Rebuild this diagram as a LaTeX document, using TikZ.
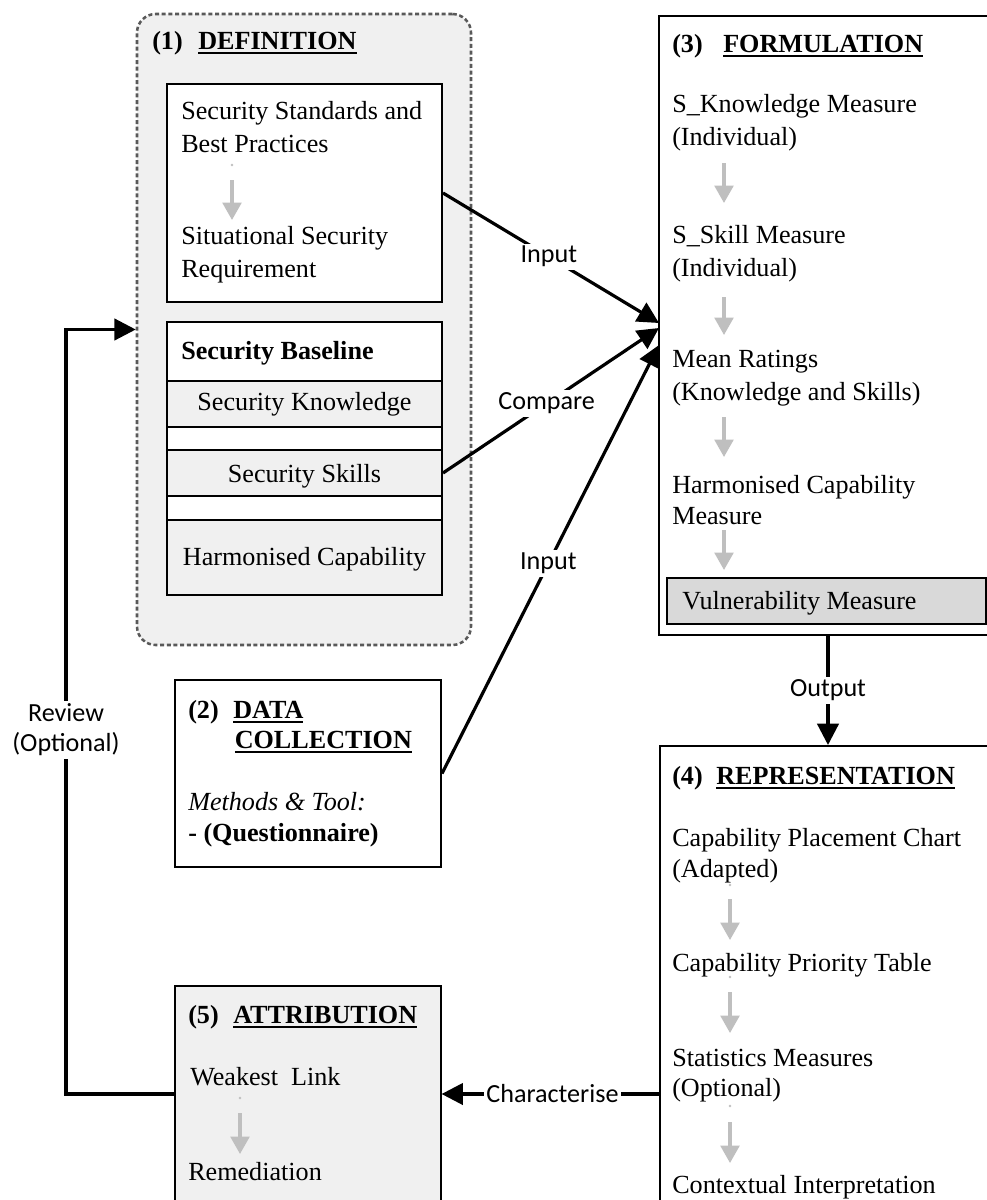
\documentclass[tikz,border=0pt]{standalone}
\usepackage{fontspec}
\setmainfont{Liberation Serif}
\newfontfamily\lab{Carlito}
\usetikzlibrary{arrows.meta,fit}
\definecolor{lgray}{HTML}{F0F0F0}
\definecolor{vgray}{HTML}{D9D9D9}
\definecolor{dgray}{HTML}{595959}
\definecolor{agray}{HTML}{BFBFBF}
\newcommand{\myul}[1]{\setbox0\hbox{#1}\rlap{\vrule width\wd0 height -2.2pt depth 3.6pt}\box0}
\begin{document}
\begin{tikzpicture}[x=0.75pt,y=-0.75pt,
  font=\fontsize{19.6}{24}\selectfont,
  box/.style={draw=black, line width=1.5pt, inner sep=0pt},
  txt/.style={anchor=base west, inner sep=0pt},
  ctxt/.style={anchor=base, inner sep=0pt},
  lbl/.style={font=\lab\fontsize{19.6}{22.5}\selectfont, fill=white, inner sep=2pt, align=center},
  conn/.style={draw=black, line width=2.4pt, -{Triangle[length=16pt,width=16pt]}},
  garrow/.style={draw=agray, line width=2.4pt, -{Triangle[length=13pt,width=14pt]}},
  gdot/.style={fill=agray, draw=none}
]
\useasboundingbox (0,0) rectangle (987,1200);
\clip (0,0) rectangle (987,1200);

% (1) DEFINITION
\node[fit={(137,14)(471,645)}, inner sep=0pt, draw=dgray, fill=lgray, line width=1.9pt,
      dash pattern=on 3pt off 2pt, rounded corners=14pt] (D) {};
\node[txt] (n1) at (152,49) {\bfseries (1)};
\node[txt] (w1) at (198,49) {\bfseries\myul{DEFINITION}};

\node[box, fill=white, fit={(167,84)(442,302)}] (A) {};
\node[txt] (a1) at (181,119) {Security Standards and};
\node[txt] (a2) at (181,152) {Best Practices};
\node[txt] (a3) at (181,244) {Situational Security};
\node[txt] (a4) at (181,277) {Requirement};
\fill[gdot] (232,165) circle (1pt);
\draw[garrow] (232,180) -- (232,220);

\node[box, fill=white, fit={(167,322)(442,381)}] (bh) {};
\node[box, fill=lgray, fit={(167,381)(442,427)}] (bk) {};
\node[box, fill=white, fit={(167,427)(442,450)}] (bg1) {};
\node[box, fill=lgray, fit={(167,450)(442,496)}] (bs) {};
\node[box, fill=white, fit={(167,496)(442,520)}] (bg2) {};
\node[box, fill=lgray, fit={(167,520)(442,595)}] (bc) {};
\node[box, fit={(167,322)(442,595)}] (B) {};
\node[txt] (b1) at (181,359) {\bfseries Security Baseline};
\node[ctxt] (b2) at (304.5,410) {Security Knowledge};
\node[ctxt] (b3) at (304.5,482) {Security Skills};
\node[ctxt] (b4) at (304.5,565) {Harmonised Capability};

% (2) DATA COLLECTION
\node[box, fill=white, fit={(175,680)(441,867)}] (DC) {};
\node[txt] (n2) at (188,718) {\bfseries (2)};
\node[txt] (w2) at (233,718) {\bfseries\myul{DATA}};
\node[txt] (w2b) at (234.5,748) {\bfseries\myul{COLLECTION}};
\node[txt] (m1) at (188,810) {\itshape Methods \& Tool:};
\node[txt] (m2) at (188,841) {\bfseries - (Questionnaire)};

% (5) ATTRIBUTION
\node[draw=black, line width=0.9pt, inner sep=0pt, fill=lgray, fit={(175,986)(441,1202)}] (AT) {};
\node[txt] (n5) at (188,1023) {\bfseries (5)};
\node[txt] (w5) at (233,1023) {\bfseries\myul{ATTRIBUTION}};
\node[txt] (e1) at (190,1085) {Weakest\ \ Link};
\node[txt] (e2) at (188,1180) {Remediation};
\fill[gdot] (240,1098) circle (1pt);
\draw[garrow] (240,1113) -- (240,1154);

% (3) FORMULATION
\node[box, fill=white, fit={(659,16)(997,635)}] (F) {};
\node[txt] (n3) at (672,52) {\bfseries (3)};
\node[txt] (w3) at (723,52) {\bfseries\myul{FORMULATION}};
\node[txt] (f1) at (672,112) {S\_Knowledge Measure};
\node[txt] (f2) at (672,145) {(Individual)};
\draw[garrow] (724,163) -- (724,203);
\node[txt] (f3) at (672,243) {S\_Skill Measure};
\node[txt] (f4) at (672,276) {(Individual)};
\draw[garrow] (724,297) -- (724,335);
\node[txt] (f5) at (672,367) {Mean Ratings};
\node[txt] (f6) at (672,400) {(Knowledge and Skills)};
\draw[garrow] (724,417) -- (724,457);
\node[txt] (f7) at (672,493) {Harmonised Capability};
\node[txt] (f8) at (672,524) {Measure};
\draw[garrow] (724,530) -- (724,570);
\node[box, fill=vgray, fit={(667,578)(986,624)}] (V) {};
\node[txt] (f9) at (682,609) {Vulnerability Measure};

% (4) REPRESENTATION
\node[box, fill=white, fit={(660,746)(996,1442)}] (R) {};
\node[txt] (n4) at (672,784) {\bfseries (4)};
\node[txt] (w4) at (716,784) {\bfseries\myul{REPRESENTATION}};
\node[txt] (r1) at (672,846) {Capability Placement Chart};
\node[txt] (r2) at (672,877) {(Adapted)};
\fill[gdot] (730,885) circle (1pt);
\draw[garrow] (730,899) -- (730,940);
\node[txt] (r3) at (672,971) {Capability Priority Table};
\fill[gdot] (730,977) circle (1pt);
\draw[garrow] (730,992) -- (730,1033);
\node[txt] (r4) at (672,1066) {Statistics Measures};
\node[txt] (r5) at (672,1096) {(Optional)};
\fill[gdot] (730,1106) circle (1pt);
\draw[garrow] (730,1122) -- (730,1163);
\node[txt] (r6) at (672,1193) {Contextual Interpretation};

% connectors
\coordinate (t1) at (659,323);
\coordinate (t2) at (659,328);
\coordinate (t3) at (659,345);
\coordinate (k1) at (66,1094);
\draw[conn] (A.east) -- node[lbl, pos=0.49] {Input} (t1);
\draw[conn] (bs.east) -- node[lbl, pos=0.48] {Compare} (t2);
\draw[conn] (DC.east) -- node[lbl, pos=0.49] {Input} (t3);
\draw[conn] (F.south) -- node[lbl] {Output} (R.north);
\draw[conn] (R.west) -- node[lbl, pos=0.49] {Characterise} (AT.west -| AT.east);
\draw[conn] (AT.west) -- (k1) |- (D.west);
\node[lbl] (rv) at (66,730) {Review\\(Optional)};
\end{tikzpicture}
\end{document}
